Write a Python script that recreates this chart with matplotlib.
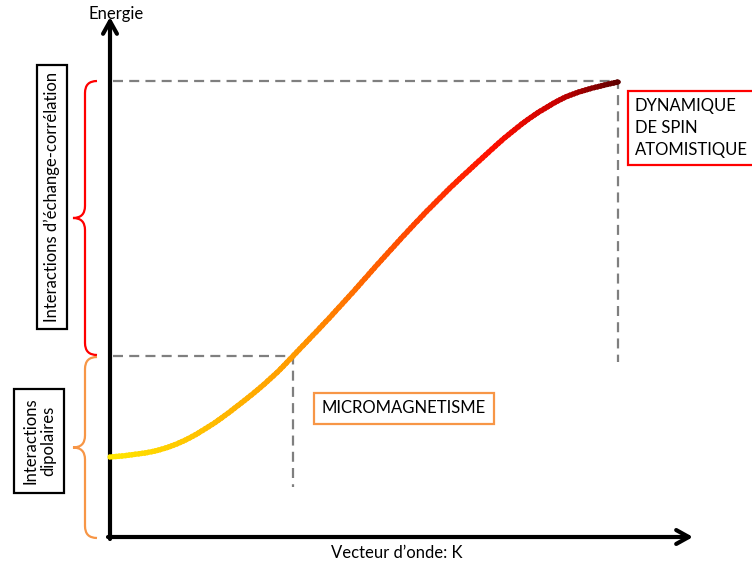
import matplotlib
matplotlib.use('Agg')
import matplotlib.pyplot as plt
import numpy as np
from matplotlib.colors import LinearSegmentedColormap
from matplotlib.path import Path
from matplotlib.patches import PathPatch, Rectangle

plt.rcParams['font.family'] = ['Lato', 'DejaVu Sans']

# curve (K, energy) in arbitrary units
wave_k = [0, 28, 62, 95, 128, 162, 183, 230, 280, 330, 370, 403, 437, 470, 508]
energy = [80, 82, 90, 107, 131, 159, 181, 230, 287, 340, 377, 407, 431, 447, 455]

# reference levels
k_micro, e_micro = 183, 181
k_atom, e_atom = 508, 456
e_micro_drop = 50
e_atom_drop = 175

label_exchange = "Interactions d\u2019\u00e9change-corr\u00e9lation"
label_dipolar = "Interactions\ndipolaires"
label_micro = "MICROMAGNETISME"
label_atom = "DYNAMIQUE\nDE SPIN\nATOMISTIQUE"
xlabel = "Vecteur d\u2019onde: K"
ylabel = "Energie"

fs = 12

fig = plt.figure(figsize=(7.52, 5.68), dpi=100)
ax = fig.add_axes([0, 0, 1, 1])
ax.set_xlim(-110, 642)
ax.set_ylim(-31, 537)
ax.axis('off')

# axes arrows
arrow = dict(arrowstyle='->,head_length=0.9,head_width=0.5', lw=3, color='black',
             shrinkA=0, shrinkB=0)
ax.annotate('', xy=(583, 0), xytext=(-2, 0), arrowprops=arrow)
ax.annotate('', xy=(0, 520), xytext=(0, -2), arrowprops=arrow)
ax.text(6, 523, ylabel, ha='center', va='center', fontsize=fs)
ax.text(287, -16, xlabel, ha='center', va='center', fontsize=fs)

# dashed guides
dash = dict(color='#7f7f7f', lw=1.6, dashes=(4.5, 2.8))
ax.plot([3, k_micro, k_micro], [e_micro, e_micro, e_micro_drop], **dash)
ax.plot([3, k_atom, k_atom], [e_atom, e_atom, e_atom_drop], **dash)

# smooth curve through the read points (quadratic b-spline path)
pts = np.column_stack([wave_k, energy]).astype(float)
verts = [pts[0]]
codes = [Path.MOVETO]
for i in range(1, len(pts) - 1):
    end = pts[i + 1] if i == len(pts) - 2 else (pts[i] + pts[i + 1]) / 2
    verts += [pts[i], end]
    codes += [Path.CURVE3, Path.CURVE3]
curve = Path(verts, codes)

# colour gradient along K: draw the curve in clipped vertical strips
cmap = LinearSegmentedColormap.from_list('heat', [
    (0.0, '#ffe600'), (0.36, '#ff9a00'), (0.55, '#ff5500'),
    (0.75, '#ff1000'), (0.88, '#c80000'), (1.0, '#600000')])
kmax = max(wave_k)
edges = np.linspace(-5, kmax + 5, 160)
for a, b in zip(edges[:-1], edges[1:]):
    t = np.clip((a + b) / 2 / kmax, 0, 1)
    p = PathPatch(curve, fc='none', ec=cmap(t), lw=3.8, capstyle='round', zorder=3)
    ax.add_patch(p)
    clip = Rectangle((a, -50), (b - a) * 1.6, 700, transform=ax.transData)
    p.set_clip_path(clip)


def brace(y_top, y_bot, color):
    x_end, x_line, x_tip, r = -13, -25, -37, 12
    mid = (y_top + y_bot) / 2
    v = [(x_end, y_top), (x_line, y_top), (x_line, y_top - r),
         (x_line, mid + r), (x_line, mid), (x_tip, mid),
         (x_line, mid), (x_line, mid - r),
         (x_line, y_bot + r), (x_line, y_bot), (x_end, y_bot)]
    c = [Path.MOVETO, Path.CURVE3, Path.CURVE3,
         Path.LINETO, Path.CURVE3, Path.CURVE3,
         Path.CURVE3, Path.CURVE3,
         Path.LINETO, Path.CURVE3, Path.CURVE3]
    ax.add_patch(PathPatch(Path(v, c), fc='none', ec=color, lw=1.6))


brace(e_atom, e_micro + 1, '#ff0000')
brace(e_micro - 1, -1, '#f79646')

# label boxes
ax.text(-58, 340, label_exchange, rotation=90, ha='center', va='center', fontsize=fs,
        bbox=dict(boxstyle='square,pad=0.42', fc='white', ec='black', lw=1.6))
ax.text(-71, 96, label_dipolar, rotation=90, ha='center', va='center', fontsize=fs,
        linespacing=1.15,
        bbox=dict(boxstyle='square,pad=0.5', fc='white', ec='black', lw=1.6))
ax.text(294, 129, label_micro, ha='center', va='center', fontsize=fs,
        bbox=dict(boxstyle='square,pad=0.45', fc='white', ec='#f79646', lw=1.6))
ax.text(525, 409, label_atom, ha='left', va='center', fontsize=fs, linespacing=1.45,
        bbox=dict(boxstyle='square,pad=0.45', fc='white', ec='#ff0000', lw=1.6))

fig.savefig('out.png', dpi=100)
